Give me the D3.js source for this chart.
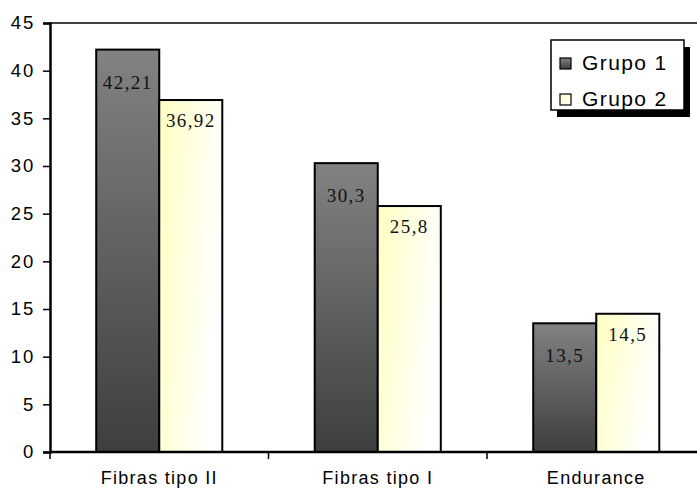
<!DOCTYPE html>
<html>
<head>
<meta charset="utf-8">
<script src="https://cdn.jsdelivr.net/npm/d3@7"></script>
<style>
  html, body { margin: 0; padding: 0; background: #fff; }
  svg { display: block; }
</style>
</head>
<body>
<div id="chart"></div>
<script>
// ---- data ----
const categories = ["Fibras tipo II", "Fibras tipo I", "Endurance"];
const seriesNames = ["Grupo 1", "Grupo 2"];
const grupo1 = [42.21, 30.3, 13.5];
const grupo2 = [36.92, 25.8, 14.5];
const labels1 = ["42,21", "30,3", "13,5"];
const labels2 = ["36,92", "25,8", "14,5"];
const yTicks = [0, 5, 10, 15, 20, 25, 30, 35, 40, 45];

// ---- layout ----
const W = 697, H = 491;
const padLeft = 50, padTop = 23, padBottom = 452, padRight = 705.5;

const svg = d3.select("#chart").append("svg")
  .attr("width", W).attr("height", H);

const defs = svg.append("defs");
const gDark = defs.append("linearGradient").attr("id", "gDark")
  .attr("x1", 0).attr("y1", 0).attr("x2", 0).attr("y2", 1);
gDark.append("stop").attr("offset", "0%").attr("stop-color", "#828282");
gDark.append("stop").attr("offset", "100%").attr("stop-color", "#3e3e3e");

const gLight = defs.append("linearGradient").attr("id", "gLight")
  .attr("x1", 0).attr("y1", 0).attr("x2", 1).attr("y2", 0.35);
gLight.append("stop").attr("offset", "0%").attr("stop-color", "#ffffc2");
gLight.append("stop").attr("offset", "100%").attr("stop-color", "#ffffff");

const gLegL = defs.append("linearGradient").attr("id", "gLegL")
  .attr("x1", 0).attr("y1", 0).attr("x2", 1).attr("y2", 1);
gLegL.append("stop").attr("offset", "0%").attr("stop-color", "#ffffc4");
gLegL.append("stop").attr("offset", "100%").attr("stop-color", "#ffffff");

const x0 = d3.scaleBand().domain(categories).range([padLeft, padRight])
  .paddingInner(0.423).paddingOuter(0.2115);
const x1 = d3.scaleBand().domain(seriesNames).range([0, x0.bandwidth()]);
const y = d3.scaleLinear().domain([0, 45]).range([padBottom, padTop]);

// plot area top border
svg.append("line")
  .attr("x1", padLeft).attr("x2", W).attr("y1", y(45)).attr("y2", y(45))
  .attr("stroke", "#000").attr("stroke-width", 1.5);

// bars
const series = [
  { name: seriesNames[0], values: grupo1, labels: labels1, fill: "url(#gDark)", dy: 39 },
  { name: seriesNames[1], values: grupo2, labels: labels2, fill: "url(#gLight)", dy: 27 }
];

series.forEach(s => {
  const g = svg.append("g");
  g.selectAll("rect").data(categories).join("rect")
    .attr("x", (c) => x0(c) + x1(s.name))
    .attr("y", (c, i) => y(s.values[i]))
    .attr("width", x1.bandwidth())
    .attr("height", (c, i) => y(0) - y(s.values[i]))
    .attr("fill", s.fill)
    .attr("stroke", "#000").attr("stroke-width", 2);
});

series.forEach(s => {
  svg.append("g").selectAll("text").data(categories).join("text")
    .attr("x", (c) => x0(c) + x1(s.name) + x1.bandwidth() / 2)
    .attr("y", (c, i) => y(s.values[i]) + s.dy)
    .attr("text-anchor", "middle")
    .attr("font-family", "'Liberation Serif', 'Times New Roman', serif")
    .attr("font-size", 19)
    .attr("letter-spacing", 1.4)
    .attr("fill", "#111")
    .text((c, i) => s.labels[i]);
});

// y axis
const yAxis = d3.axisLeft(y).tickValues(yTicks).tickSize(7).tickPadding(8)
  .tickFormat(d3.format("d"));
const ya = svg.append("g").attr("transform", `translate(${padLeft},0)`).call(yAxis);
ya.select(".domain").attr("stroke", "#000").attr("stroke-width", 2.5);
ya.selectAll(".tick line").attr("stroke", "#000").attr("stroke-width", 1.5);
ya.selectAll(".tick text")
  .attr("font-family", "'Liberation Sans', Arial, sans-serif")
  .attr("font-size", 18.5).attr("letter-spacing", 1.8).attr("fill", "#000");

// x axis
const bounds = [padLeft, ...categories.slice(1).map(c => x0(c) - x0.step() * x0.paddingInner() / 2), padRight];
const xa = svg.append("g").attr("transform", `translate(0,${padBottom})`);
xa.append("line").attr("x1", padLeft).attr("x2", W).attr("y1", 0).attr("y2", 0)
  .attr("stroke", "#000").attr("stroke-width", 2.5);
xa.selectAll("line.tk").data(bounds).join("line").attr("class", "tk")
  .attr("x1", d => d).attr("x2", d => d).attr("y1", 0).attr("y2", 7)
  .attr("stroke", "#000").attr("stroke-width", 1.5);
xa.selectAll("text").data(categories).join("text")
  .attr("x", c => x0(c) + x0.bandwidth() / 2)
  .attr("y", 32)
  .attr("text-anchor", "middle")
  .attr("font-family", "'Liberation Sans', Arial, sans-serif")
  .attr("font-size", 18).attr("letter-spacing", 1.3).attr("fill", "#000")
  .text(c => c);

// legend
const lg = svg.append("g").attr("transform", "translate(551,40)");
lg.append("rect").attr("x", 6).attr("y", 7).attr("width", 133).attr("height", 70).attr("fill", "#000");
lg.append("rect").attr("x", 0).attr("y", 0).attr("width", 133).attr("height", 70)
  .attr("fill", "#fff").attr("stroke", "#000").attr("stroke-width", 1.5);
const legFills = ["url(#gDark)", "url(#gLegL)"];
seriesNames.forEach((n, i) => {
  lg.append("rect").attr("x", 9).attr("y", 18 + i * 36).attr("width", 11).attr("height", 11)
    .attr("fill", legFills[i]).attr("stroke", "#000").attr("stroke-width", 1.2);
  lg.append("text").attr("x", 31).attr("y", 30 + i * 36)
    .attr("font-family", "'Liberation Sans', Arial, sans-serif")
    .attr("font-size", 21).attr("letter-spacing", 1.4).attr("fill", "#000")
    .text(n);
});
</script>
</body>
</html>
